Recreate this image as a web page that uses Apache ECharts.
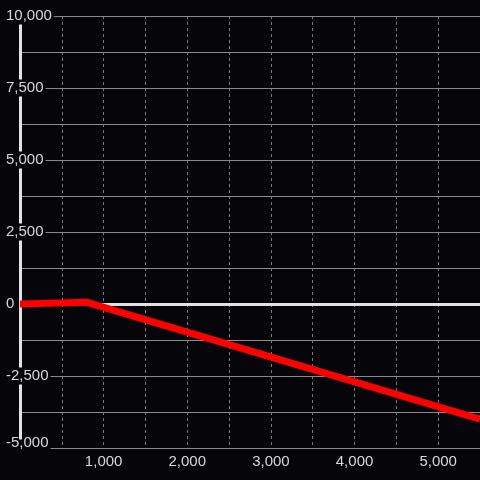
<!DOCTYPE html>
<html>
<head>
<meta charset="utf-8">
<script src="https://cdn.jsdelivr.net/npm/echarts@6/dist/echarts.min.js"></script>
<style>
  html, body { margin: 0; padding: 0; background: #060509; }
  #chart { width: 480px; height: 480px; }
</style>
</head>
<body>
<div id="chart"></div>
<script>
// line data
const xValues = [0, 800, 5500];
const yValues = [0, 60, -4000];

// labelled ticks (grid lines are drawn at half steps)
const xTickLabels = [1000, 2000, 3000, 4000, 5000];
const yTickLabels = [-5000, -2500, 0, 2500, 5000, 7500, 10000];

const bg = '#060509';
const textColor = '#d8d8d8';
const font = 'Liberation Sans';
const fmt = (v) => v.toLocaleString('en-US');

const chart = echarts.init(document.getElementById('chart'));

chart.setOption({
  backgroundColor: bg,
  animation: false,
  grid: { left: 20, right: 0, top: 16, bottom: 32 },
  xAxis: {
    type: 'value',
    min: 0,
    max: 5500,
    interval: 500,
    z: 0,
    axisLine: { show: true, lineStyle: { color: '#8a8a8a', width: 1 } },
    axisTick: { show: false },
    axisLabel: {
      color: textColor,
      fontFamily: font,
      fontSize: 15,
      margin: 6,
      showMinLabel: false,
      showMaxLabel: false,
      formatter: (v) => (xTickLabels.includes(v) ? fmt(v) : ''),
    },
    splitLine: {
      show: true,
      lineStyle: { color: '#7a7a7a', width: 1, type: [3, 3] },
    },
  },
  yAxis: {
    type: 'value',
    min: -5000,
    max: 10000,
    interval: 1250,
    z: 1,
    axisLine: { show: true, lineStyle: { color: '#e2e2e2', width: 3 } },
    axisTick: { show: false },
    axisLabel: {
      color: textColor,
      fontFamily: font,
      fontSize: 15,
      align: 'left',
      margin: 15,
      backgroundColor: bg,
      padding: [1, 2, 1, 1],
      formatter: (v) => {
        if (!yTickLabels.includes(v)) return '';
        // lowest label sits just above its grid line
        return v === yTickLabels[0] ? '{m|' + fmt(v) + '}' : fmt(v);
      },
      rich: {
        m: {
          color: textColor,
          fontFamily: font,
          fontSize: 15,
          lineHeight: 15,
          padding: [0, 0, 11, 0],
        },
      },
    },
    splitLine: {
      show: true,
      lineStyle: { color: '#8a8a8a', width: 1 },
    },
  },
  series: [
    {
      // zero reference line
      type: 'line',
      data: [],
      z: 1,
      silent: true,
      markLine: {
        silent: true,
        symbol: 'none',
        label: { show: false },
        lineStyle: { color: '#e2e2e2', width: 3, type: 'solid' },
        data: [{ yAxis: 0 }],
      },
    },
    {
      type: 'line',
      data: xValues.map((x, i) => [x, yValues[i]]),
      z: 5,
      clip: false,
      showSymbol: false,
      lineStyle: { color: '#ff0000', width: 7, join: 'miter' },
    },
  ],
});
</script>
</body>
</html>
